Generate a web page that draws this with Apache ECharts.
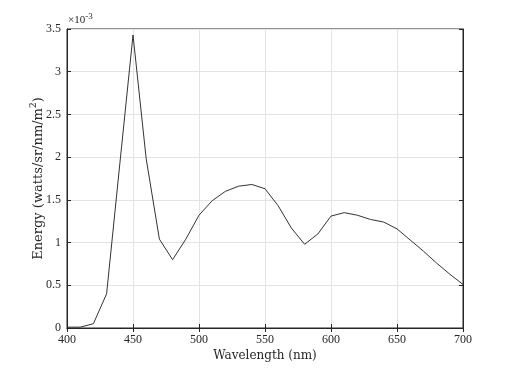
<!DOCTYPE html>
<html>
<head>
<meta charset="utf-8">
<script src="https://cdn.jsdelivr.net/npm/echarts@6/dist/echarts.min.js"></script>
<style>html,body{margin:0;padding:0;background:#fff;}#c{width:512px;height:369px;}</style>
</head>
<body>
<div id="c"></div>
<script>
// Wavelength (nm)
var wavelengths = [400,410,420,430,440,450,460,470,480,490,500,510,520,530,540,550,560,570,580,590,600,610,620,630,640,650,660,670,680,690,700];
// Energy in units of 1e-3 watts/sr/nm/m^2
var energy = [0.01,0.01,0.05,0.40,1.92,3.43,1.98,1.04,0.80,1.04,1.32,1.49,1.60,1.66,1.68,1.63,1.43,1.17,0.98,1.10,1.31,1.35,1.32,1.27,1.24,1.16,1.03,0.90,0.76,0.63,0.51];
var xTicks = [400,450,500,550,600,650,700];
var yTicks = [0,0.5,1,1.5,2,2.5,3,3.5];

var font = '"DejaVu Serif", "Liberation Serif", serif';
var tickFont = '"Liberation Serif", "DejaVu Serif", serif';
var axisColor = '#262626';
var data = wavelengths.map(function(w,i){return [w, energy[i]];});

var chart = echarts.init(document.getElementById('c'), null, {renderer:'canvas'});
chart.setOption({
  animation:false,
  backgroundColor:'#fff',
  grid:{left:67,right:49,top:29,bottom:41,show:true,borderColor:axisColor,borderWidth:1},
  graphic:[{type:'text',left:68,top:12,style:{
    text:'{a|×10}{b|-3}',
    rich:{
      a:{fontFamily:tickFont,fontSize:11,fill:axisColor,verticalAlign:'bottom',lineHeight:14},
      b:{fontFamily:tickFont,fontSize:9,fill:axisColor,verticalAlign:'top',lineHeight:14}
    }
  }}],
  xAxis:[{
    type:'value',min:xTicks[0],max:xTicks[xTicks.length-1],interval:50,
    name:'Wavelength (nm)',nameLocation:'middle',nameGap:22,nameMoveOverlap:false,
    nameTextStyle:{fontFamily:font,fontSize:12,color:axisColor},
    axisLine:{show:true,lineStyle:{color:axisColor}},
    axisTick:{show:true,inside:true,length:4,lineStyle:{color:axisColor}},
    axisLabel:{fontFamily:tickFont,fontSize:12,color:axisColor,margin:6},
    splitLine:{show:true,lineStyle:{color:'#e3e3e3',width:1}}
  },{
    type:'value',position:'top',min:xTicks[0],max:xTicks[xTicks.length-1],interval:50,
    axisLine:{show:true,lineStyle:{color:axisColor}},
    axisTick:{show:true,inside:true,length:4,lineStyle:{color:axisColor}},
    axisLabel:{show:false},splitLine:{show:false}
  }],
  yAxis:[{
    type:'value',min:0,max:3.5,interval:0.5,
    name:'{t|Energy (watts/sr/nm/m}{s|2}{t|)}',nameLocation:'middle',nameGap:22,nameMoveOverlap:false,
    nameTextStyle:{fontFamily:font,fontSize:13,color:axisColor,
      rich:{
        t:{fontFamily:font,fontSize:13,color:axisColor,verticalAlign:'bottom',lineHeight:16},
        s:{fontFamily:font,fontSize:9,color:axisColor,verticalAlign:'top',lineHeight:16}
      }},
    axisLine:{show:true,lineStyle:{color:axisColor}},
    axisTick:{show:true,inside:true,length:4,lineStyle:{color:axisColor}},
    axisLabel:{fontFamily:tickFont,fontSize:12,color:axisColor,margin:6},
    splitLine:{show:true,lineStyle:{color:'#e3e3e3',width:1}}
  },{
    type:'value',position:'right',min:0,max:3.5,interval:0.5,
    axisLine:{show:true,lineStyle:{color:axisColor}},
    axisTick:{show:true,inside:true,length:4,lineStyle:{color:axisColor}},
    axisLabel:{show:false},splitLine:{show:false}
  }],
  series:[{
    type:'line',data:data,showSymbol:false,symbol:'none',
    lineStyle:{color:'#333333',width:1},
    xAxisIndex:0,yAxisIndex:0
  }]
});
</script>
</body>
</html>
